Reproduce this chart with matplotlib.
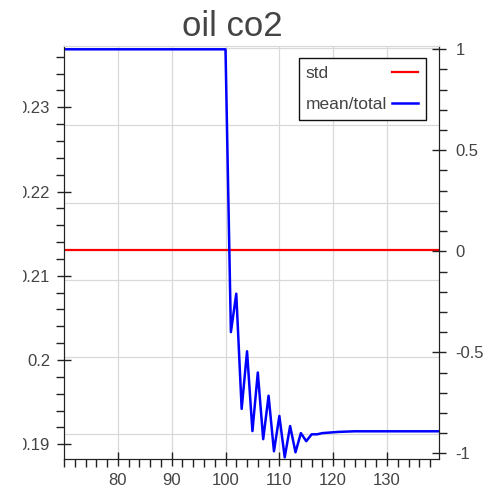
import matplotlib
matplotlib.use("Agg")
import matplotlib.pyplot as plt
from matplotlib.ticker import MultipleLocator
from matplotlib.transforms import Bbox, TransformedBbox
import numpy as np

plt.rcParams["font.family"] = ["Liberation Sans", "DejaVu Sans"]

# data
x_steps = np.arange(70, 141)
mean_total = [1.0] * 31 + [
    -0.40, -0.21, -0.78, -0.495, -0.89, -0.60, -0.93, -0.715, -0.99, -0.815,
    -1.02, -0.865, -0.995, -0.90, -0.94, -0.906, -0.906, -0.90, -0.898, -0.896,
    -0.894, -0.893, -0.892, -0.891,
] + [-0.891] * 16
std_value = 0.2130

text_c = "#444444"
grid_c = "#d9d9d9"

fig = plt.figure(figsize=(4.9, 4.92), dpi=100)
ax = fig.add_axes([64 / 490, 1 - 458.7 / 492, (438.7 - 64) / 490, (458.7 - 45.7) / 492])
ax2 = ax.twinx()

# background grid (evenly spaced, independent of both y scales)
for v in np.arange(0.19121, 0.2374, 0.00916):
    ax.axhline(v, color=grid_c, lw=0.9, zorder=0)
for v in range(80, 140, 10):
    ax.axvline(v, color=grid_c, lw=0.9, zorder=0)

l1, = ax.plot([70, 139.6], [std_value, std_value], color="#ff0000", lw=1.6, label="std")
l2, = ax2.plot(x_steps, mean_total, color="#0000ff", lw=1.8, label="mean/total")

ax.set_xlim(70, 139.6)
ax.set_ylim(0.18828, 0.23731)
ax2.set_ylim(-1.0267, 1.0178)

ax.set_yticks([0.19, 0.2, 0.21, 0.22, 0.23])
ax.set_yticklabels(["0.19", "0.2", "0.21", "0.22", "0.23"])
ax.yaxis.set_minor_locator(MultipleLocator(0.002))
ax.set_xticks([80, 90, 100, 110, 120, 130])
ax.xaxis.set_minor_locator(MultipleLocator(2))
ax2.set_yticks([-1, -0.5, 0, 0.5, 1])
ax2.set_yticklabels(["-1", "-0.5", "0", "0.5", "1"])
ax2.yaxis.set_minor_locator(MultipleLocator(0.1))

for a in (ax, ax2):
    a.tick_params(which="major", direction="inout", length=10, width=1,
                  labelsize=12, labelcolor=text_c, color="#222222")
    a.tick_params(which="minor", direction="out", length=6, width=1, color="#222222")
    for s in ("left", "right", "bottom"):
        a.spines[s].set_color("#222222")
    a.spines["top"].set_color(grid_c)
ax.tick_params(axis="y", which="major", pad=5)
ax.tick_params(axis="x", which="major", pad=5)
ax2.tick_params(axis="y", which="major", pad=7)
ax.tick_params(top=False)
ax2.tick_params(top=False)

# left tick labels get cut off at the figure edge
clip = TransformedBbox(Bbox([[23 / 490, 0], [1, 1]]), fig.transFigure)
for lab in ax.get_yticklabels():
    lab.set_clip_box(clip)
    lab.set_clip_on(True)

leg = ax2.legend(handles=[l1, l2], loc="upper right", bbox_to_anchor=(0.9653, 0.9695),
                 markerfirst=False, fontsize=12.5, frameon=True, fancybox=False,
                 handlelength=1.5, labelspacing=0.95, borderpad=0.42,
                 handletextpad=0.29, borderaxespad=0)
leg.get_frame().set_edgecolor("#111111")
leg.get_frame().set_linewidth(1.0)
leg.get_frame().set_alpha(1)
for t in leg.get_texts():
    t.set_color(text_c)

fig.text(232 / 490, 1 - 36 / 492, "oil co2", fontsize=25, color=text_c, ha="center", va="baseline")

# labels left, line samples right: widen the gap in shorter rows
fig.canvas.draw()
r = fig.canvas.get_renderer()
widths = [t.get_window_extent(r).width for t in leg.get_texts()]
rows = leg._legend_handle_box.get_children()[0].get_children()
for row, w in zip(rows, widths):
    row.sep += (max(widths) - w) * 72 / fig.dpi

fig.savefig("out.png", dpi=100)
